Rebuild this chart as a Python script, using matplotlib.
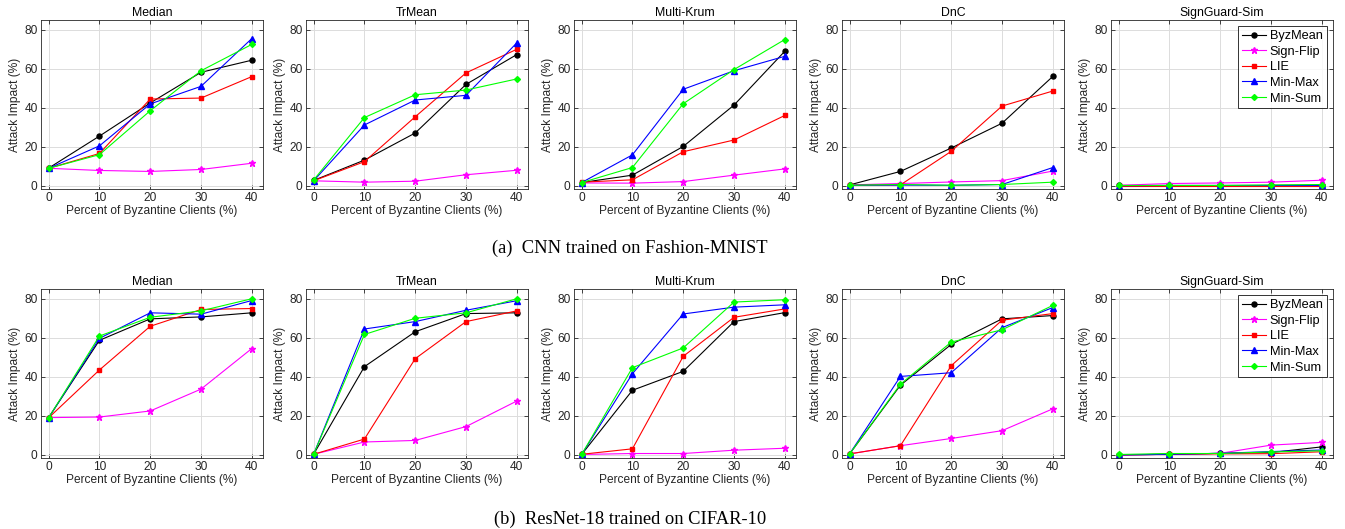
import matplotlib
matplotlib.use("Agg")
import matplotlib.pyplot as plt

x_pct = [0, 10, 20, 30, 40]
attacks = ["ByzMean", "Sign-Flip", "LIE", "Min-Max", "Min-Sum"]
defenses = ["Median", "TrMean", "Multi-Krum", "DnC", "SignGuard-Sim"]
captions = ["(a)  CNN trained on Fashion-MNIST", "(b)  ResNet-18 trained on CIFAR-10"]

# (a) CNN / Fashion-MNIST  -- rows: ByzMean, Sign-Flip, LIE, Min-Max, Min-Sum
fm_median = [[9.1, 25.5, 42.5, 58.2, 64.4],
             [9.0, 7.9, 7.4, 8.4, 11.6],
             [9.0, 16.6, 44.5, 45.0, 56.0],
             [9.0, 20.5, 42.0, 51.0, 75.5],
             [9.0, 16.0, 38.5, 59.0, 72.5]]
fm_trmean = [[2.8, 13.2, 27.1, 52.0, 67.3],
             [2.6, 1.9, 2.4, 5.7, 8.0],
             [2.6, 12.4, 35.4, 57.9, 70.0],
             [2.6, 31.2, 44.0, 46.4, 73.3],
             [3.0, 35.0, 46.7, 49.1, 54.8]]
fm_krum = [[1.7, 5.5, 20.2, 41.4, 69.0],
           [1.5, 1.4, 2.2, 5.5, 8.7],
           [1.9, 3.1, 17.5, 23.5, 36.1],
           [1.7, 15.9, 49.5, 59.0, 66.4],
           [1.7, 9.4, 42.1, 59.6, 75.0]]
fm_dnc = [[0.5, 7.4, 19.4, 32.1, 56.1],
          [0.5, 1.2, 2.0, 2.7, 7.6],
          [0.3, 0.5, 17.7, 40.9, 48.6],
          [0.3, 0.4, 0.3, 0.7, 9.4],
          [0.3, 0.7, 0.3, 0.7, 1.9]]
fm_sg = [[0.2, 0.2, 0.2, 0.2, 0.3],
         [0.3, 1.2, 1.5, 1.9, 2.9],
         [0.1, 0.1, 0.1, 0.1, 0.1],
         [0.1, 0.2, 0.2, 0.2, 0.2],
         [0.2, 0.2, 0.2, 0.5, 0.7]]

# (b) ResNet-18 / CIFAR-10
cf_median = [[19.1, 58.7, 69.7, 70.7, 72.8],
             [19.1, 19.4, 22.5, 33.7, 54.5],
             [19.0, 43.5, 65.9, 74.5, 75.0],
             [19.0, 59.7, 72.8, 72.1, 79.1],
             [19.0, 60.9, 70.5, 73.8, 80.0]]
cf_trmean = [[0.3, 45.2, 63.1, 72.4, 72.8],
             [0.3, 6.6, 7.4, 14.5, 27.6],
             [0.3, 8.1, 49.3, 68.3, 73.8],
             [0.3, 64.5, 68.3, 74.1, 79.0],
             [0.3, 61.7, 70.0, 72.8, 80.0]]
cf_krum = [[0.2, 33.1, 42.8, 68.3, 72.9],
           [0.2, 0.7, 0.7, 2.4, 3.4],
           [0.3, 3.1, 50.5, 70.5, 74.8],
           [0.2, 41.6, 72.2, 75.7, 76.9],
           [0.2, 44.7, 54.8, 78.3, 79.5]]
cf_dnc = [[0.5, 35.7, 56.6, 69.7, 71.4],
          [0.5, 4.7, 8.4, 12.4, 23.6],
          [0.5, 4.7, 45.7, 69.0, 72.4],
          [0.5, 40.2, 42.1, 65.2, 75.5],
          [0.5, 36.2, 57.8, 64.1, 76.6]]
cf_sg = [[0.0, 0.3, 0.8, 1.2, 4.1],
         [0.0, 0.2, 0.8, 5.0, 6.4],
         [0.0, 0.3, 0.5, 0.6, 1.6],
         [0.0, 0.3, 0.8, 1.7, 2.5],
         [0.2, 0.7, 0.7, 1.5, 2.1]]

rows = [[fm_median, fm_trmean, fm_krum, fm_dnc, fm_sg],
        [cf_median, cf_trmean, cf_krum, cf_dnc, cf_sg]]

colors = ["#000000", "#ff00ff", "#ff0000", "#0000ff", "#00ff00"]
markers = ["o", "*", "s", "^", "D"]
msizes = [3.6, 5.0, 3.4, 3.8, 3.0]

W, H = 1345, 529
fig = plt.figure(figsize=(W / 100, H / 100), dpi=100)
plt.rcParams["font.family"] = ["Liberation Sans", "DejaVu Sans"]

lefts = [41, 306, 574, 842, 1111]
aw = 222
tops = [20, 289]
ah = 169
tc = "#262626"
fs = 8.6

for r in range(2):
    for c in range(5):
        l = lefts[c] / W
        b = 1 - (tops[r] + ah) / H
        ax = fig.add_axes([l, b, aw / W, ah / H])
        data = rows[r][c]
        for k in range(5):
            ax.plot(x_pct, data[k], color=colors[k], marker=markers[k],
                    markersize=msizes[k], linewidth=0.8, label=attacks[k])
        ax.set_xlim(-1.5, 42.2)
        ax.set_ylim(-1.6, 85)
        ax.set_xticks(x_pct)
        ax.set_yticks([0, 20, 40, 60, 80])
        ax.grid(True, color="#dcdcdc", linewidth=0.7)
        ax.set_axisbelow(True)
        ax.tick_params(direction="in", length=3, width=0.6, top=True, right=True,
                       labelsize=fs, colors=tc, pad=2.5)
        for s in ax.spines.values():
            s.set_color(tc)
            s.set_linewidth(0.6)
        ax.set_title(defenses[c], fontsize=8.8, color="#000000", pad=3)
        ax.set_xlabel("Percent of Byzantine Clients (%)", fontsize=fs, color=tc, labelpad=0.5)
        ax.set_ylabel("Attack Impact (%)", fontsize=fs, color=tc, labelpad=2.5)
        if c == 4:
            leg = ax.legend(loc="upper right", fontsize=9.2, frameon=True, fancybox=False,
                            handlelength=1.9, handletextpad=0.3, borderpad=0.3,
                            labelspacing=0.28, borderaxespad=0.5)
            leg.get_frame().set_edgecolor("#000000")
            leg.get_frame().set_linewidth(0.7)

fig.text(630 / W, 1 - 248 / H, captions[0], ha="center", va="center",
         fontsize=13.3, family=["Liberation Serif", "DejaVu Serif"])
fig.text(630 / W, 1 - 519 / H, captions[1], ha="center", va="center",
         fontsize=13.3, family=["Liberation Serif", "DejaVu Serif"])

fig.savefig("out.png", dpi=100)
